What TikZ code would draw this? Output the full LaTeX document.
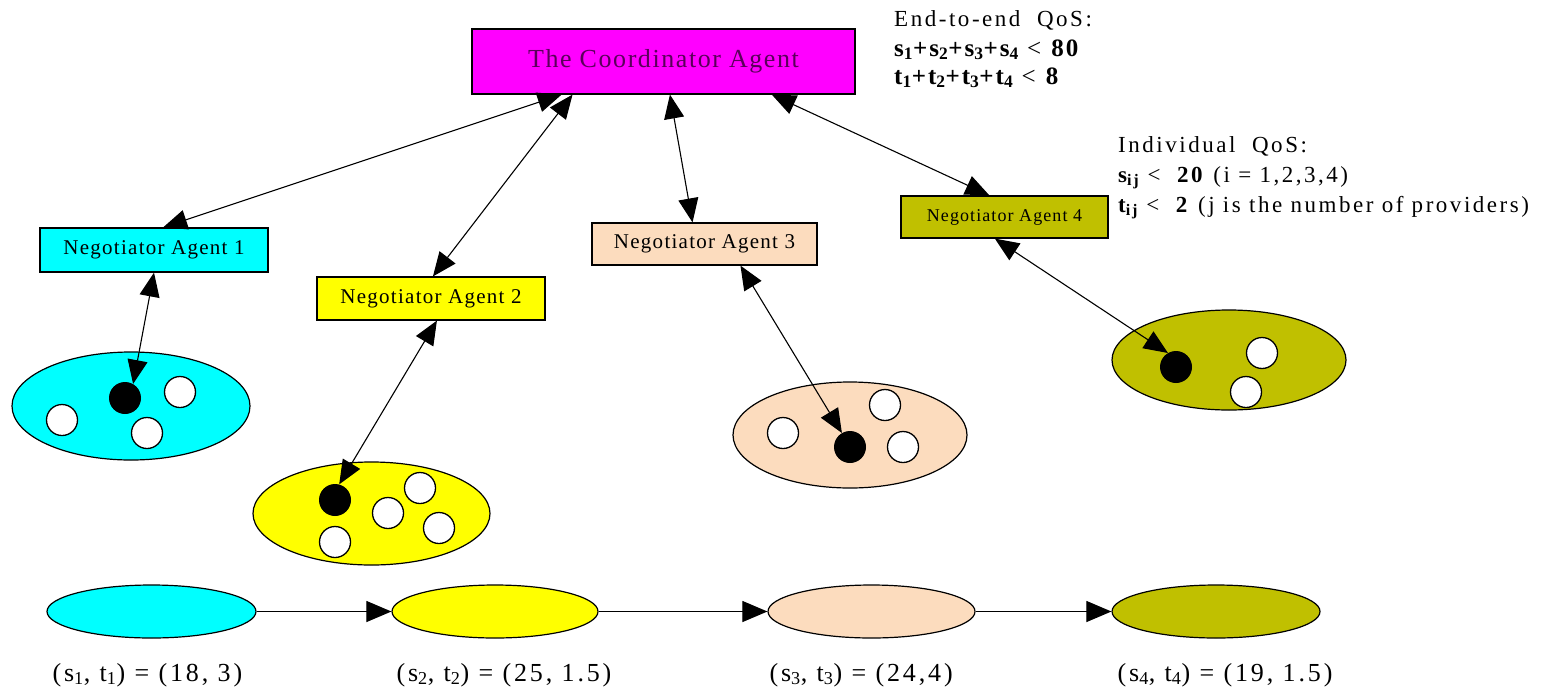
\documentclass[tikz,border=0pt]{standalone}
\usepackage{fontspec}
\setmainfont{Liberation Serif}
\newfontfamily\fcoord[LetterSpace=6]{Liberation Serif}
\newfontfamily\fneg[LetterSpace=6]{Liberation Serif}
\newfontfamily\fqos[LetterSpace=11]{Liberation Serif}
\newfontfamily\fmath[LetterSpace=8]{Liberation Serif}
\usetikzlibrary{shapes.geometric,arrows.meta,calc}
\definecolor{cyanC}{HTML}{00FFFF}
\definecolor{yellowC}{HTML}{FFFF00}
\definecolor{peachC}{HTML}{FCDCBE}
\definecolor{oliveC}{HTML}{C0C000}
\definecolor{magentaC}{HTML}{FF00FF}
\definecolor{purpleT}{HTML}{5A005A}
\begin{document}
\begin{tikzpicture}[x=1pt,y=-1pt,
  box/.style={draw=black, line width=1.2pt, inner sep=0pt, minimum height=43pt},
  pool/.style={ellipse, draw=black, line width=1.2pt, inner sep=0pt},
  svc/.style={ellipse, draw=black, line width=1.2pt, inner sep=0pt, minimum width=208pt, minimum height=53pt},
  prov/.style={circle, draw=black, fill=white, line width=1.3pt, inner sep=0pt, minimum size=31pt},
  chosen/.style={circle, fill=black, inner sep=0pt, minimum size=32pt},
  link/.style={line width=1.1pt, {Triangle[length=24pt,width=20pt]}-{Triangle[length=24pt,width=20pt]}},
  flow/.style={line width=1.1pt, -{Triangle[length=25pt,width=21pt]}},
  negtext/.style={font=\fneg\fontsize{21}{24}\selectfont},
  qos/.style={anchor=base west, inner sep=0pt, font=\fqos\fontsize{23}{26}\selectfont},
  mqos/.style={anchor=base west, inner sep=0pt, font=\fmath\fontsize{25}{28}\selectfont},
  lbl/.style={anchor=base west, inner sep=0pt, font=\fqos\fontsize{26}{30}\selectfont}
]
\useasboundingbox (0,0) rectangle (1562,688);

% coordinator
\node[box, fill=magentaC, minimum width=383pt, minimum height=65pt,
      text=purpleT, font=\fcoord\fontsize{26}{30}\selectfont] (coord) at (663.5,61.5) {The Coordinator Agent};

% negotiators
\node[box, fill=cyanC, minimum width=228pt, minimum height=44pt, negtext] (na1) at (154,250) {Negotiator Agent 1};
\node[box, fill=yellowC, minimum width=228pt, negtext] (na2) at (431,298.5) {Negotiator Agent 2};
\node[box, fill=peachC, minimum width=225pt, minimum height=42pt, negtext] (na3) at (704.5,244) {Negotiator Agent 3};
\node[box, fill=oliveC, minimum width=207pt, minimum height=42pt,
      font=\fneg\fontsize{18}{21}\selectfont] (na4) at (1004.5,217) {Negotiator Agent 4};

% provider pools
\node[pool, fill=cyanC, minimum width=238pt, minimum height=108pt] (p1) at (131,406) {};
\node[prov] (w11) at (62,420) {};
\node[prov] (w12) at (180,392) {};
\node[prov] (w13) at (147,433) {};
\node[chosen] (d1) at (125,398) {};

\node[pool, fill=yellowC, minimum width=237pt, minimum height=103pt] (p2) at (371.5,513.5) {};
\node[prov] (w21) at (335,542) {};
\node[prov] (w22) at (388,513) {};
\node[prov] (w23) at (420,488) {};
\node[prov] (w24) at (439,528) {};
\node[chosen] (d2) at (335,500) {};

\node[pool, fill=peachC, minimum width=234pt, minimum height=106pt] (p3) at (850,435) {};
\node[prov] (w31) at (783,433) {};
\node[prov] (w32) at (885,405) {};
\node[prov] (w33) at (903,447) {};
\node[chosen] (d3) at (850,447) {};

\node[pool, fill=oliveC, minimum width=234pt, minimum height=100pt] (p4) at (1229,360) {};
\node[prov] (w41) at (1262,353) {};
\node[prov] (w42) at (1246,392) {};
\node[chosen] (d4) at (1176,367) {};

% coordinator links
\draw[link] (na1.68) -- (coord.-162.5);
\draw[link] (na2.85) -- (coord.-160.5);
\draw[link] (na3.119) -- (coord.-79);
\draw[link] (na4.125) -- (coord.-17.4);

% negotiator to provider links
\draw[link] (na1.south) -- (d1.60);
\draw[link] (na2.-75) -- (d2.75);
\draw[link] (na3.-31) -- (d3.120);
\draw[link] (na4.-114) -- (d4.120);

% composed service chain
\node[svc, fill=cyanC, minimum width=209pt] (b1) at (151.5,611.5) {};
\node[svc, fill=yellowC, minimum width=206pt] (b2) at (495,611.5) {};
\node[svc, fill=peachC, minimum width=207pt] (b3) at (871.5,611.5) {};
\node[svc, fill=oliveC] (b4) at (1216,611.5) {};
\draw[flow] (b1) -- (b2);
\draw[flow] (b2) -- (b3);
\draw[flow] (b3) -- (b4);

\node[lbl] (l1) at ($(b1.west)+(6,69.5)$) {(s\textsubscript{1}, t\textsubscript{1}) = (18, 3)};
\node[lbl] (l2) at ($(b2.west)+(5,69.5)$) {(s\textsubscript{2}, t\textsubscript{2}) = (25, 1.5)};
\node[lbl] (l3) at ($(b3.west)+(2,69.5)$) {(s\textsubscript{3}, t\textsubscript{3}) = (24,4)};
\node[lbl] (l4) at ($(b4.west)+(6,69.5)$) {(s\textsubscript{4}, t\textsubscript{4}) = (19,\ 1.5)};

% QoS constraints
\node[qos] (e1) at (894,27) {End-to-end\ \ QoS:};
\node[mqos] (e2) at (894,56) {\textbf{s\textsubscript{1}+s\textsubscript{2}+s\textsubscript{3}+s\textsubscript{4}}\ <\ \textbf{80}};
\node[mqos] (e3) at (894,84) {\textbf{t\textsubscript{1}+t\textsubscript{2}+t\textsubscript{3}+t\textsubscript{4}}\ <\ \textbf{8}};

\node[qos] (i1) at (1118,152) {Individual\ \ QoS:};
\node[qos] (i2) at (1118,182) {\textbf{s\textsubscript{ij}} <\ \ \textbf{20} (i = 1,2,3,4)};
\node[qos] (i3) at (1118,212) {\textbf{t\textsubscript{ij}} <\ \ \textbf{2} (j is the number of providers)};
\end{tikzpicture}
\end{document}
